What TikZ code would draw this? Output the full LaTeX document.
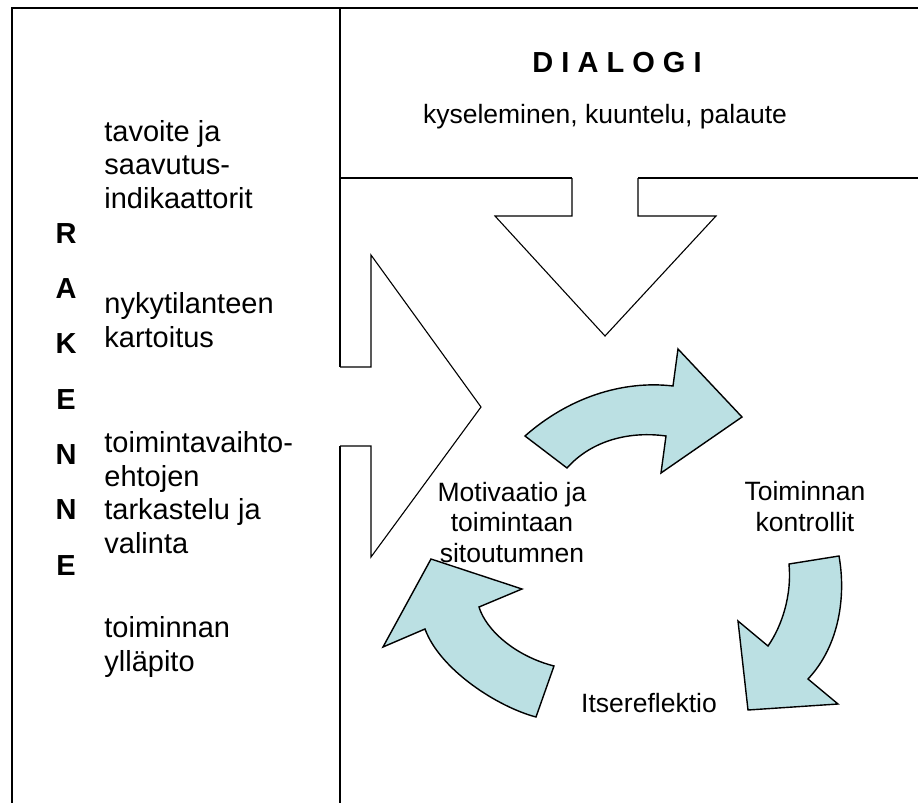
\documentclass[tikz,border=0pt]{standalone}
\usepackage{fontspec}
\setmainfont{Liberation Sans}
\usetikzlibrary{positioning}
\definecolor{cyclefill}{HTML}{BBE0E3}

\begin{document}
\begin{tikzpicture}[x=0.5pt,y=-0.5pt,
  rule/.style={line width=1pt},
  bigarrow/.style={draw,line width=0.55pt,line join=miter},
  cyclearrow/.style={draw,line width=0.7pt,fill=cyclefill},
  coltext/.style={inner sep=0pt,align=left,font=\fontsize{14.5}{16.75}\selectfont},
  celltext/.style={inner sep=0pt,align=center,font=\fontsize{13.25}{15.25}\selectfont}]
\useasboundingbox (0,0) rectangle (918,803);

% table rules
\draw[rule] (12,803) -- (12,8) -- (918,8);
\draw[rule] (340,8) -- (340,367);
\draw[rule] (340,446) -- (340,803);
\draw[rule] (340,178) -- (572,178);
\draw[rule] (638,178) -- (918,178);

% white arrows
\draw[bigarrow] (572,178) -- (572,216) -- (495,216) -- (605,336) -- (716,216) -- (638,216) -- (638,178);
\draw[bigarrow] (340,367) -- (371,367) -- (371,255) -- (481,407) -- (371,557) -- (371,446) -- (340,446);

% cycle arrows
\draw[cyclearrow] (525,436) .. controls (568,398) and (622,380) .. (673,386) -- (678,349) -- (742,417)
  -- (661,473) -- (666,436) .. controls (630,431) and (592,440) .. (567,468) -- cycle;
\draw[cyclearrow] (789,564) -- (839,556) .. controls (846,595) and (840,645) .. (808,679) -- (838,704)
  -- (748,710) -- (738,621) -- (768,646) .. controls (782,626) and (792,595) .. (789,564) -- cycle;
\draw[cyclearrow] (554,666) -- (536,717) .. controls (498,707) and (440,670) .. (425,629) -- (383,647)
  -- (431,559) -- (522,589) -- (479,607) .. controls (486,630) and (515,656) .. (554,666) -- cycle;

% DIALOGI
\node[inner sep=0pt,anchor=base,font=\fontsize{14.5}{17}\selectfont\bfseries] (dialogi) at (617,72) {D I A L O G I};
\node[celltext,anchor=base] (dialogitext) at (605,123) {kyseleminen, kuuntelu, palaute};

% RAKENNE (anchored at the last line)
\node[inner sep=0pt,anchor=base,align=center,font=\fontsize{14.5}{27.65}\selectfont\bfseries] (rakenne) at (66,575) {R\\A\\K\\E\\N\\N\\E};
\node[coltext,anchor=base west] (goal) at (104,208) {tavoite ja\\saavutus-\\indikaattorit};
\node[coltext,anchor=base west] (current) at (104,347) {nykytilanteen\\kartoitus};
\node[coltext,anchor=base west] (options) at (104,553) {toimintavaihto-\\ehtojen\\tarkastelu ja\\valinta};
\node[coltext,anchor=base west] (upkeep) at (104,671) {toiminnan\\ylläpito};

% cycle labels
\node[celltext,anchor=base] (motiv) at (512,562) {Motivaatio ja\\toimintaan\\sitoutumnen};
\node[celltext,anchor=base] (control) at (805,531) {Toiminnan\\kontrollit};
\node[celltext,anchor=base] (reflect) at (649,712) {Itsereflektio};
\end{tikzpicture}
\end{document}
